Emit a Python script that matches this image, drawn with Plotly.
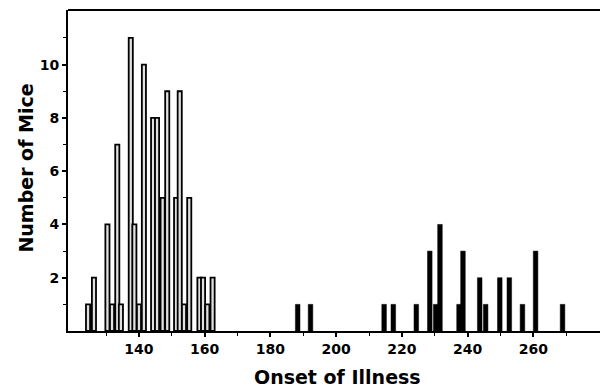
import plotly.graph_objects as go

# Group 1 (outlined bars)
onset_a = [124.5, 126.3, 130.4, 131.8, 133.4, 134.5, 137.5, 138.6, 140.0, 141.5,
           144.3, 145.5, 147.2, 148.6, 151.3, 152.4, 153.7, 155.3, 158.4, 159.5,
           160.8, 162.4]
mice_a = [1, 2, 4, 1, 7, 1, 11, 4, 1, 10, 8, 8, 5, 9, 5, 9, 1, 5, 2, 2, 1, 2]

# Group 2 (solid bars)
onset_b = [188.3, 192.2, 214.6, 217.4, 224.4, 228.5, 230.3, 231.6, 237.4, 238.6,
           243.7, 245.5, 249.8, 252.7, 256.7, 260.7, 268.9]
mice_b = [1, 1, 1, 1, 1, 3, 1, 4, 1, 3, 2, 1, 2, 2, 1, 3, 1]

x_ticks = [140, 160, 180, 200, 220, 240, 260]
y_ticks = [2, 4, 6, 8, 10]

FONT = "DejaVu Sans"

fig = go.Figure()
fig.add_trace(go.Bar(
    x=onset_a, y=mice_a, width=[1.25] * len(onset_a),
    marker=dict(color="#e0e0e0", line=dict(color="black", width=1.8)),
    showlegend=False,
))
fig.add_trace(go.Bar(
    x=onset_b, y=mice_b, width=[1.4] * len(onset_b),
    marker=dict(color="black", line=dict(color="black", width=0.5)),
    showlegend=False,
))

fig.update_layout(
    width=603, height=389,
    margin=dict(l=68, r=3, t=10, b=58),
    paper_bgcolor="white", plot_bgcolor="white",
    barmode="overlay",
    font=dict(family=FONT, color="black"),
    shapes=[dict(type="line", xref="paper", yref="paper", x0=0, x1=1, y0=1, y1=1,
                 line=dict(color="black", width=2))],
    annotations=[
        dict(text="Onset of Illness", xref="paper", yref="paper", x=0.5075, y=-0.143,
             xanchor="center", yanchor="middle", showarrow=False,
             font=dict(family=FONT, size=19, weight="bold", color="black")),
        dict(text="Number of Mice", xref="paper", yref="paper", x=-0.079, y=0.509,
             xanchor="center", yanchor="middle", showarrow=False, textangle=-90,
             font=dict(family=FONT, size=19, weight="bold", color="black")),
    ],
)
fig.update_xaxes(
    range=[118.4, 280.3], showline=True, linecolor="black", linewidth=2,
    showgrid=False, zeroline=False, automargin=False,
    tickmode="array", tickvals=x_ticks, ticktext=[str(v) for v in x_ticks],
    ticks="outside", ticklen=4, tickwidth=1.5, tickcolor="black",
    minor=dict(ticks="outside", tickmode="array",
               tickvals=[130, 150, 170, 190, 210, 230, 250, 270],
               ticklen=3, tickwidth=1, tickcolor="black"),
    tickfont=dict(family=FONT, size=14, weight="bold"),
)
fig.update_yaxes(
    range=[0, 12.05], showline=True, linecolor="black", linewidth=2,
    showgrid=False, zeroline=False, automargin=False,
    tickmode="array", tickvals=y_ticks, ticktext=[str(v) for v in y_ticks],
    ticks="outside", ticklen=4, tickwidth=1.5, tickcolor="black",
    minor=dict(ticks="outside", tickmode="array", tickvals=[1, 3, 5, 7, 9, 11],
               ticklen=3, tickwidth=1, tickcolor="black"),
    tickfont=dict(family=FONT, size=14, weight="bold"),
)

fig.write_html("out.html", config={"displayModeBar": False},
               post_script="document.body.style.margin='0';document.body.style.padding='0';")
